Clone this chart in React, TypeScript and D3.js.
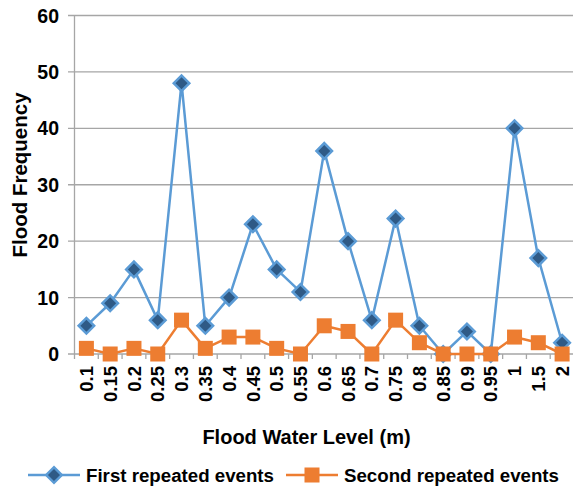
import React from "react";
import * as d3 from "d3";

// Flood water level categories (m)
const levels = ["0.1", "0.15", "0.2", "0.25", "0.3", "0.35", "0.4", "0.45", "0.5", "0.55", "0.6", "0.65", "0.7", "0.75", "0.8", "0.85", "0.9", "0.95", "1", "1.5", "2"];
const firstRepeated = [5, 9, 15, 6, 48, 5, 10, 23, 15, 11, 36, 20, 6, 24, 5, 0, 4, 0, 40, 17, 2];
const secondRepeated = [1, 0, 1, 0, 6, 1, 3, 3, 1, 0, 5, 4, 0, 6, 2, 0, 0, 0, 3, 2, 0];
const yTicks = [0, 10, 20, 30, 40, 50, 60];

const W = 573;
const H = 486;
const FONT = "'Liberation Sans', Arial, sans-serif";
const BLUE = "#5B9BD5";
const NAVY = "#2F5A86";
const ORANGE = "#ED7D31";
const GRID = "#A6A6A6";

export default function App() {
  const x = d3.scaleBand<string>().domain(levels).range([74.5, 574]);
  const y = d3.scaleLinear().domain([0, 60]).range([354, 15.5]);
  const cx = (l: string) => (x(l) as number) + x.bandwidth() / 2;

  const line = d3
    .line<number>()
    .x((_, i) => cx(levels[i]))
    .y((v) => y(v));

  const boundaries = d3.range(levels.length + 1).map((i) => 74.5 + i * x.bandwidth());

  return (
    <svg width={W} height={H} style={{ position: "absolute", left: 0, top: 0, background: "#fff" }} fontFamily={FONT}>
      {/* horizontal gridlines and y tick labels */}
      {yTicks.map((t) => (
        <g key={t}>
          <line x1={68} x2={574} y1={y(t)} y2={y(t)} stroke={GRID} strokeWidth={1.3} />
          <text x={59} y={y(t)} dy="0.36em" textAnchor="end" fontSize={19.5} fontWeight="bold" fill="#000">
            {t}
          </text>
        </g>
      ))}
      {/* y axis */}
      <line x1={74.5} x2={74.5} y1={y(60)} y2={y(0)} stroke={GRID} strokeWidth={1.3} />
      {/* x tick marks between categories */}
      {boundaries.map((b, i) => (
        <line key={i} x1={b} x2={b} y1={y(0)} y2={y(0) + 5} stroke={GRID} strokeWidth={1.3} />
      ))}
      {/* x tick labels, rotated */}
      {levels.map((l) => (
        <text
          key={l}
          transform={`translate(${cx(l)},${366}) rotate(-90)`}
          dy="0.36em"
          textAnchor="end"
          fontSize={18.5}
          fontWeight="bold"
          fill="#000"
        >
          {l}
        </text>
      ))}

      {/* first repeated events */}
      <path d={line(firstRepeated) || ""} fill="none" stroke={BLUE} strokeWidth={2.5} strokeLinejoin="round" />
      {firstRepeated.map((v, i) => (
        <rect
          key={i}
          x={-5.5}
          y={-5.5}
          width={11}
          height={11}
          transform={`translate(${cx(levels[i])},${y(v)}) rotate(45)`}
          fill={NAVY}
          stroke={BLUE}
          strokeWidth={2.5}
        />
      ))}

      {/* second repeated events */}
      <path d={line(secondRepeated) || ""} fill="none" stroke={ORANGE} strokeWidth={2.5} strokeLinejoin="round" />
      {secondRepeated.map((v, i) => (
        <rect key={i} x={cx(levels[i]) - 7.5} y={y(v) - 7.5} width={15} height={15} fill={ORANGE} />
      ))}

      {/* axis titles */}
      <text x={306.5} y={444} textAnchor="middle" fontSize={20} fontWeight="bold" fill="#000">
        Flood Water Level (m)
      </text>
      <text transform="translate(27,175) rotate(-90)" textAnchor="middle" fontSize={20.5} fontWeight="bold" fill="#000">
        Flood Frequency
      </text>

      {/* legend */}
      <g>
        <line x1={28} x2={80} y1={475} y2={475} stroke={BLUE} strokeWidth={2.5} />
        <rect x={-5.5} y={-5.5} width={11} height={11} transform="translate(54,475) rotate(45)" fill={NAVY} stroke={BLUE} strokeWidth={2.5} />
        <text x={86} y={475} dy="0.36em" fontSize={18.7} fontWeight="bold" fill="#000">
          First repeated events
        </text>
        <line x1={286} x2={338} y1={475} y2={475} stroke={ORANGE} strokeWidth={2.5} />
        <rect x={312 - 7.5} y={475 - 7.5} width={15} height={15} fill={ORANGE} />
        <text x={344} y={475} dy="0.36em" fontSize={18.7} fontWeight="bold" fill="#000">
          Second repeated events
        </text>
      </g>
    </svg>
  );
}
